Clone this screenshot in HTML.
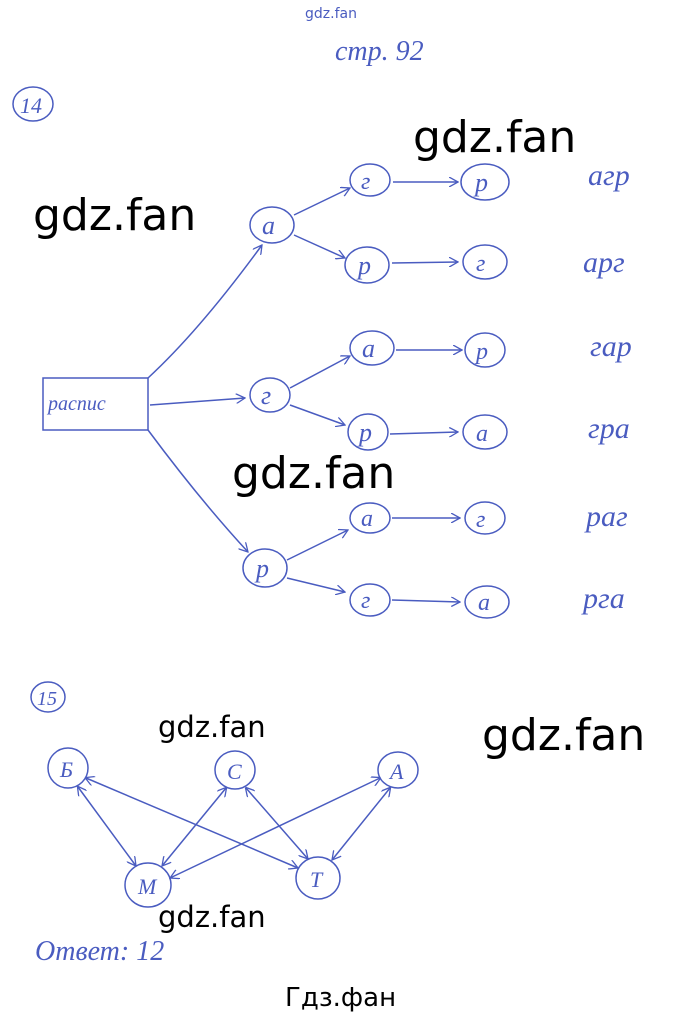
<!DOCTYPE html>
<html><head><meta charset="utf-8"><style>
html,body{margin:0;padding:0;background:#fff;}
body{width:678px;height:1013px;overflow:hidden;position:relative;}
svg{position:absolute;left:0;top:0;}
.w{font-family:"DejaVu Sans","Liberation Sans",sans-serif;fill:#000;}
.h{font-family:"Liberation Serif","DejaVu Serif",serif;font-style:italic;fill:#4a5cc0;}
</style></head><body>
<svg width="678" height="1013" viewBox="0 0 678 1013">
<defs><marker id="a" markerWidth="10" markerHeight="10" refX="9" refY="5" orient="auto" markerUnits="userSpaceOnUse"><path d="M0,0 L9,5 L0,10" fill="none" stroke="#4a5cc0" stroke-width="1.3"/></marker>
<marker id="s" markerWidth="10" markerHeight="10" refX="1" refY="5" orient="auto" markerUnits="userSpaceOnUse"><path d="M9,0 L0,5 L9,10" fill="none" stroke="#4a5cc0" stroke-width="1.3"/></marker></defs>
<g stroke="#4a5cc0" stroke-width="1.5" fill="none">
<text x="305" y="18" class="h" style="font-style:normal;font-family:'DejaVu Sans',sans-serif" font-size="14" stroke="none">gdz.fan</text>
<text x="335" y="60" class="h" font-size="28" stroke="none">стр. 92</text>
<ellipse cx="33" cy="104" rx="20" ry="17"/><text x="20" y="113" class="h" font-size="22" stroke="none">14</text>
<rect x="43" y="378" width="105" height="52"/><text x="48" y="410" class="h" font-size="20" stroke="none">распис</text>
<path d="M148,378 Q200,330 262,245" marker-end="url(#a)"/>
<path d="M150,405 L245,398" marker-end="url(#a)"/>
<path d="M148,430 Q200,500 248,552" marker-end="url(#a)"/>
<ellipse cx="272" cy="225" rx="22" ry="18"/><text x="262" y="234" class="h" font-size="26" stroke="none">а</text>
<ellipse cx="270" cy="395" rx="20" ry="17"/><text x="261" y="404" class="h" font-size="26" stroke="none">г</text>
<ellipse cx="265" cy="568" rx="22" ry="19"/><text x="256" y="577" class="h" font-size="26" stroke="none">р</text>
<path d="M294,215 L350,188" marker-end="url(#a)"/><path d="M294,235 L345,258" marker-end="url(#a)"/>
<path d="M290,388 L350,356" marker-end="url(#a)"/><path d="M290,405 L345,425" marker-end="url(#a)"/>
<path d="M287,560 L348,530" marker-end="url(#a)"/><path d="M287,578 L345,592" marker-end="url(#a)"/>
<ellipse cx="370" cy="180" rx="20" ry="16"/><text x="361" y="189" class="h" font-size="24" stroke="none">г</text>
<ellipse cx="367" cy="265" rx="22" ry="18"/><text x="358" y="274" class="h" font-size="26" stroke="none">р</text>
<ellipse cx="372" cy="348" rx="22" ry="17"/><text x="362" y="357" class="h" font-size="26" stroke="none">а</text>
<ellipse cx="368" cy="432" rx="20" ry="18"/><text x="359" y="441" class="h" font-size="26" stroke="none">р</text>
<ellipse cx="370" cy="518" rx="20" ry="15"/><text x="361" y="526" class="h" font-size="24" stroke="none">а</text>
<ellipse cx="370" cy="600" rx="20" ry="16"/><text x="361" y="608" class="h" font-size="24" stroke="none">г</text>
<path d="M393,182 L458,182" marker-end="url(#a)"/><path d="M392,263 L458,262" marker-end="url(#a)"/>
<path d="M396,350 L462,350" marker-end="url(#a)"/><path d="M390,434 L458,432" marker-end="url(#a)"/>
<path d="M392,518 L460,518" marker-end="url(#a)"/><path d="M392,600 L460,602" marker-end="url(#a)"/>
<ellipse cx="485" cy="182" rx="24" ry="18"/><text x="475" y="191" class="h" font-size="26" stroke="none">р</text>
<ellipse cx="485" cy="262" rx="22" ry="17"/><text x="476" y="271" class="h" font-size="24" stroke="none">г</text>
<ellipse cx="485" cy="350" rx="20" ry="17"/><text x="476" y="359" class="h" font-size="24" stroke="none">р</text>
<ellipse cx="485" cy="432" rx="22" ry="17"/><text x="476" y="441" class="h" font-size="24" stroke="none">а</text>
<ellipse cx="485" cy="518" rx="20" ry="16"/><text x="476" y="527" class="h" font-size="24" stroke="none">г</text>
<ellipse cx="487" cy="602" rx="22" ry="16"/><text x="478" y="610" class="h" font-size="24" stroke="none">а</text>
<g stroke="none" class="h" font-size="30"><text x="588" y="185">агр</text><text x="583" y="272">арг</text><text x="590" y="356">гар</text><text x="588" y="438">гра</text><text x="586" y="526">раг</text><text x="583" y="608">рга</text></g>
<ellipse cx="48" cy="697" rx="17" ry="15"/><text x="37" y="705" class="h" font-size="20" stroke="none">15</text>
<ellipse cx="68" cy="768" rx="20" ry="20"/><text x="60" y="777" class="h" font-size="22" stroke="none">Б</text>
<ellipse cx="235" cy="770" rx="20" ry="19"/><text x="227" y="779" class="h" font-size="22" stroke="none">С</text>
<ellipse cx="398" cy="770" rx="20" ry="18"/><text x="390" y="779" class="h" font-size="22" stroke="none">А</text>
<ellipse cx="148" cy="885" rx="23" ry="22"/><text x="138" y="894" class="h" font-size="22" stroke="none">М</text>
<ellipse cx="318" cy="878" rx="22" ry="21"/><text x="310" y="887" class="h" font-size="22" stroke="none">Т</text>
<path d="M78,787 L136,866" marker-start="url(#s)" marker-end="url(#a)"/>
<path d="M86,778 L298,868" marker-start="url(#s)" marker-end="url(#a)"/>
<path d="M226,788 L162,866" marker-start="url(#s)" marker-end="url(#a)"/>
<path d="M246,788 L308,859" marker-start="url(#s)" marker-end="url(#a)"/>
<path d="M380,778 L170,878" marker-start="url(#s)" marker-end="url(#a)"/>
<path d="M390,788 L332,860" marker-start="url(#s)" marker-end="url(#a)"/>
<text x="35" y="960" class="h" font-size="28" stroke="none">Ответ: 12</text>
</g>
<g class="w">
<text x="413" y="152" font-size="44">gdz.fan</text>
<text x="33" y="230" font-size="44">gdz.fan</text>
<text x="232" y="488" font-size="44">gdz.fan</text>
<text x="482" y="750" font-size="44">gdz.fan</text>
<text x="158" y="737" font-size="29">gdz.fan</text>
<text x="158" y="927" font-size="29">gdz.fan</text>
<text x="285" y="1006" font-size="26">Гдз.фан</text>
</g>
</svg>
</body></html>
